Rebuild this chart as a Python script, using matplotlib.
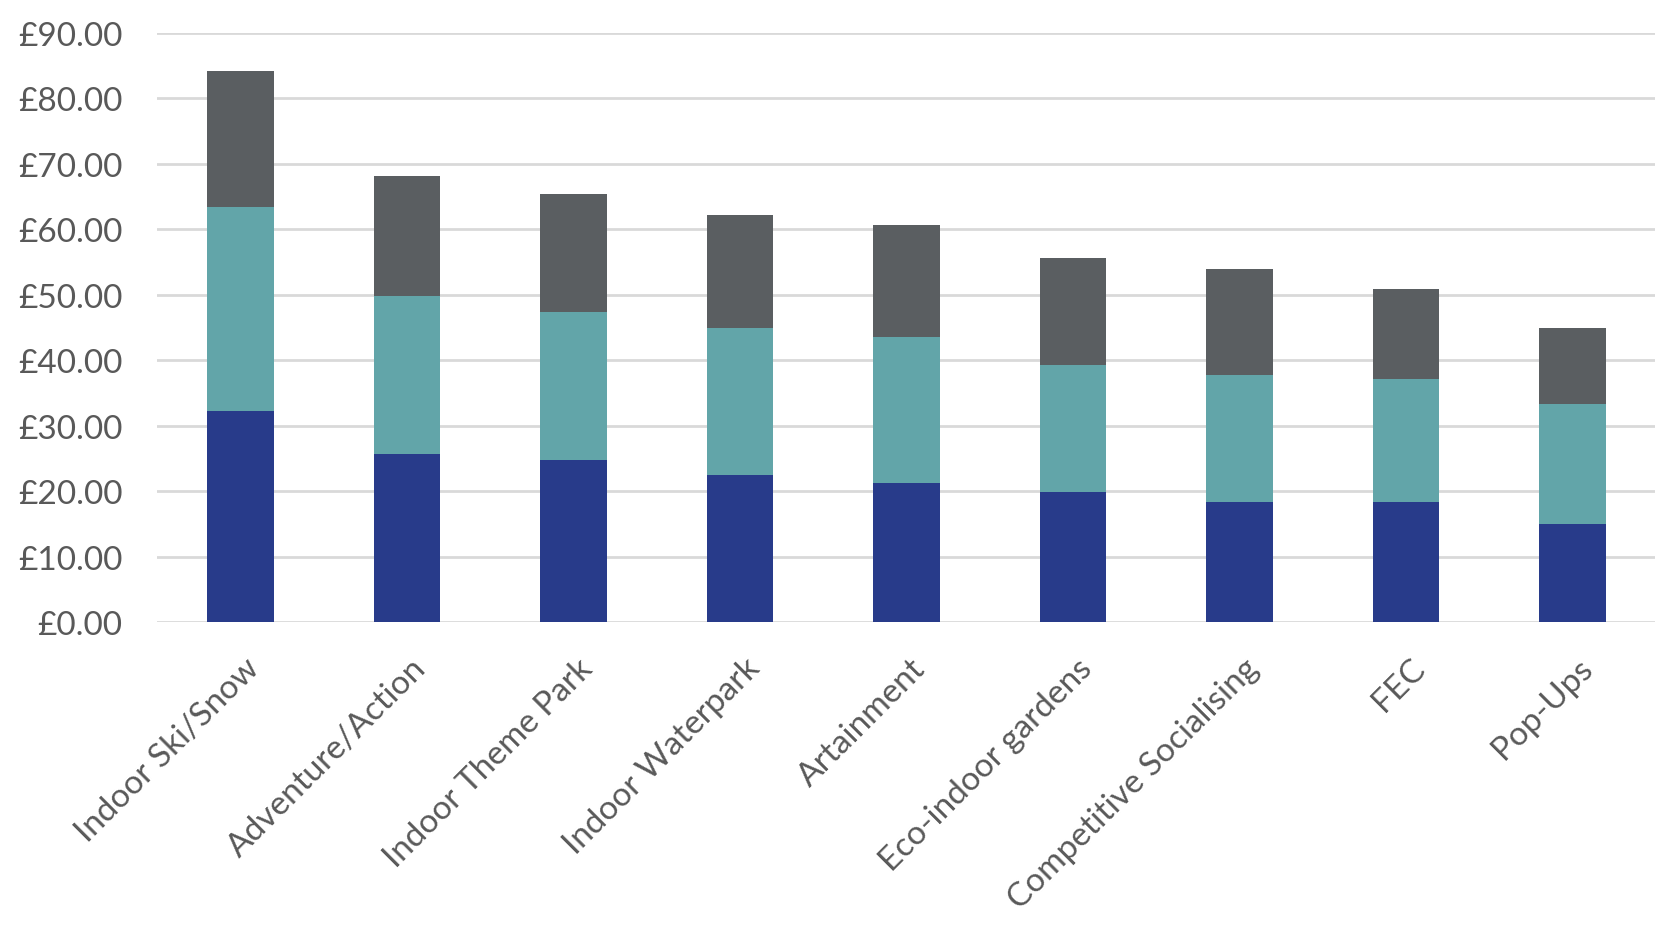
import numpy as np
import matplotlib
matplotlib.use('Agg')
import matplotlib.pyplot as plt
from matplotlib.ticker import FuncFormatter

plt.rcParams['font.family'] = ['Lato', 'DejaVu Sans']

categories = ['Indoor Ski/Snow', 'Adventure/Action', 'Indoor Theme Park',
              'Indoor Waterpark', 'Artainment', 'Eco-indoor gardens',
              'Competitive Socialising', 'FEC', 'Pop-Ups']
# cumulative heights
bottom_top = [32.3, 25.6, 24.7, 22.5, 21.3, 19.9, 18.4, 18.4, 15.0]
middle_top = [63.4, 49.8, 47.3, 44.9, 43.6, 39.3, 37.8, 37.2, 33.3]
totals = [84.2, 68.2, 65.4, 62.2, 60.6, 55.7, 54.0, 50.9, 44.9]

seg1 = np.array(bottom_top)
seg2 = np.array(middle_top) - seg1
seg3 = np.array(totals) - np.array(middle_top)

navy = '#283B8A'
teal = '#62A5A9'
grey = '#5A5E61'
text_col = '#595959'

fig = plt.figure(figsize=(16.56, 9.45), dpi=100)
ax = fig.add_axes([0.0948, 0.3407, 0.9052, 0.6233])

x = np.arange(len(categories))
w = 0.4
ax.bar(x, seg1, w, color=navy, zorder=3)
ax.bar(x, seg2, w, bottom=seg1, color=teal, zorder=3)
ax.bar(x, seg3, w, bottom=seg1 + seg2, color=grey, zorder=3)

ax.set_xlim(-0.5, len(categories) - 0.5)
ax.set_ylim(0, 90)
ax.set_yticks(np.arange(0, 91, 10))
ax.yaxis.set_major_formatter(FuncFormatter(lambda v, p: '£%.2f' % v))
ax.grid(axis='y', color='#D9D9D9', linewidth=2, zorder=0)
for s in ax.spines.values():
    s.set_visible(False)

ax.tick_params(axis='y', length=0, pad=25, labelsize=24, labelcolor=text_col)
ax.tick_params(axis='x', length=0, pad=22, labelsize=24, labelcolor=text_col)
ax.set_xticks(x)
ax.set_xticklabels(categories, rotation=45, ha='right', rotation_mode='anchor')
offset = matplotlib.transforms.ScaledTranslation(4 / 100, 0, fig.dpi_scale_trans)
for lbl in ax.get_xticklabels():
    lbl.set_transform(lbl.get_transform() + offset)

fig.savefig('out.png', dpi=100)
